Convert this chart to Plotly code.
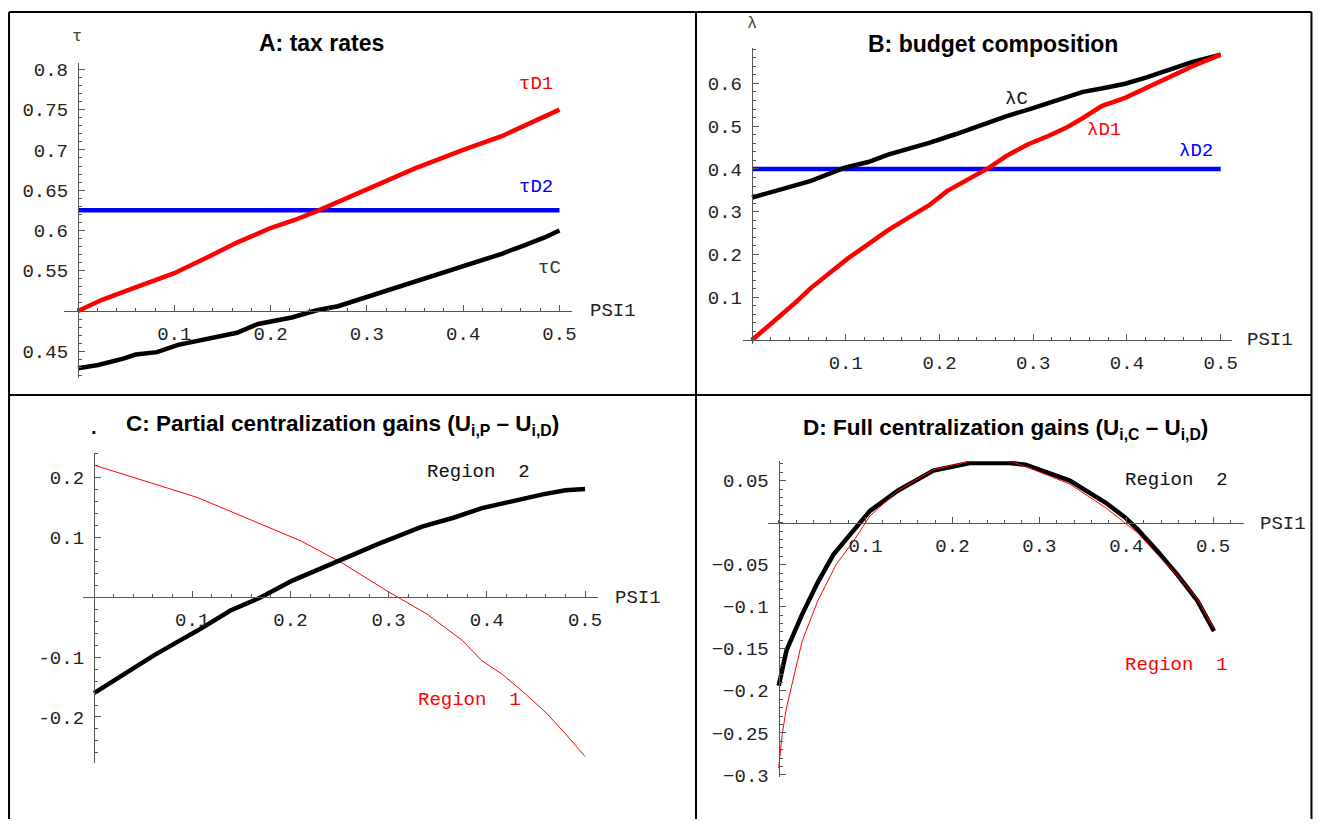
import plotly.graph_objects as go

# page body keeps an 8px margin; the captured page is a little larger than the picture
OFF = 8
VW, VH = 1327, 838            # captured page size (scaled to 1321x824 in the picture)
W, H = VW - 2 * OFF, VH - 2 * OFF
SX, SY = VW / 1321.0, VH / 824.0
SHIFT = 2.0

# ---------------- data ----------------
# Panel A: tax rates
psiA_D1 = [0, 0.025, 0.05, 0.065, 0.1, 0.135, 0.165, 0.2, 0.225, 0.25, 0.275, 0.3, 0.35, 0.4, 0.44, 0.5]
tauD1 = [0.5, 0.514, 0.525, 0.532, 0.547, 0.567, 0.585, 0.603, 0.613, 0.625, 0.638, 0.652, 0.677, 0.70, 0.717, 0.75]
psiA_D2 = [0, 0.5]
tauD2 = [0.625, 0.625]
psiA_C = [0, 0.021, 0.047, 0.06, 0.082, 0.104, 0.165, 0.187, 0.222, 0.248, 0.27, 0.31, 0.353, 0.397, 0.44, 0.462, 0.484, 0.5]
tauC = [0.429, 0.433, 0.441, 0.446, 0.449, 0.458, 0.473, 0.484, 0.492, 0.501, 0.506, 0.521, 0.537, 0.554, 0.571, 0.581, 0.591, 0.6]

# Panel B: budget composition
psiB_C = [0, 0.035, 0.063, 0.099, 0.124, 0.146, 0.167, 0.189, 0.217, 0.244, 0.271, 0.298, 0.325, 0.353, 0.373, 0.398, 0.421, 0.443, 0.47, 0.5]
lamC = [0.333, 0.356, 0.372, 0.403, 0.416, 0.434, 0.446, 0.461, 0.481, 0.502, 0.523, 0.541, 0.561, 0.58, 0.588, 0.599, 0.614, 0.631, 0.65, 0.667]
psiB_D1 = [0, 0.022, 0.044, 0.063, 0.081, 0.103, 0.126, 0.144, 0.167, 0.189, 0.208, 0.23, 0.253, 0.271, 0.294, 0.316, 0.335, 0.353, 0.373, 0.398, 0.421, 0.443, 0.47, 0.5]
lamD1 = [0, 0.04, 0.083, 0.122, 0.153, 0.192, 0.227, 0.255, 0.286, 0.315, 0.348, 0.375, 0.403, 0.43, 0.457, 0.477, 0.496, 0.519, 0.547, 0.566, 0.59, 0.613, 0.64, 0.667]
psiB_D2 = [0, 0.5]
lamD2 = [0.4, 0.4]

# Panel C: partial centralization gains
psiC_R1 = [0, 0.105, 0.211, 0.252, 0.298, 0.316, 0.339, 0.357, 0.375, 0.395, 0.416, 0.439, 0.461, 0.48, 0.5]
uC_R1 = [0.221, 0.167, 0.094, 0.058, 0.011, -0.006, -0.028, -0.05, -0.072, -0.106, -0.129, -0.161, -0.194, -0.228, -0.266]
psiC_R2 = [0, 0.03, 0.061, 0.093, 0.105, 0.139, 0.17, 0.202, 0.243, 0.289, 0.334, 0.366, 0.395, 0.425, 0.457, 0.48, 0.5]
uC_R2 = [-0.16, -0.129, -0.097, -0.067, -0.056, -0.022, 0.0, 0.028, 0.057, 0.089, 0.118, 0.133, 0.149, 0.161, 0.172, 0.179, 0.181]

# Panel D: full centralization gains
psiD_R2 = [0, 0.004, 0.009, 0.027, 0.045, 0.063, 0.082, 0.105, 0.137, 0.178, 0.22, 0.266, 0.284, 0.335, 0.376, 0.399, 0.413, 0.436, 0.459, 0.482, 0.501]
uD_R2 = [-0.194, -0.173, -0.152, -0.109, -0.071, -0.038, -0.014, 0.014, 0.038, 0.062, 0.071, 0.071, 0.069, 0.05, 0.024, 0.006, -0.008, -0.034, -0.062, -0.093, -0.129]
psiD_R1 = [0, 0.004, 0.009, 0.027, 0.045, 0.066, 0.086, 0.105, 0.137, 0.178, 0.22, 0.266, 0.284, 0.335, 0.376, 0.399, 0.413, 0.436, 0.459, 0.482, 0.5]
uD_R1 = [-0.292, -0.252, -0.22, -0.141, -0.093, -0.05, -0.022, 0.008, 0.038, 0.063, 0.073, 0.073, 0.067, 0.046, 0.018, 0.0, -0.012, -0.038, -0.063, -0.091, -0.125]

# tick values / labels
xticks = [0.1, 0.2, 0.3, 0.4, 0.5]
xticktext = ["0.1", "0.2", "0.3", "0.4", "0.5"]
yticksA = [0.45, 0.55, 0.6, 0.65, 0.7, 0.75, 0.8]
yticktextA = ["0.45", "0.55", "0.6", "0.65", "0.7", "0.75", "0.8"]
yticksB = [0.1, 0.2, 0.3, 0.4, 0.5, 0.6]
yticktextB = ["0.1", "0.2", "0.3", "0.4", "0.5", "0.6"]
yticksC = [-0.2, -0.1, 0.1, 0.2]
yticktextC = ["-0.2", "-0.1", "0.1", "0.2"]
yticksD = [-0.3, -0.25, -0.2, -0.15, -0.1, -0.05, 0.05]
yticktextD = ["\u22120.3", "\u22120.25", "\u22120.2", "\u22120.15", "\u22120.1", "\u22120.05", "0.05"]

# ---------------- layout helpers ----------------
def px(x):
    return ((x - SHIFT) * SX - OFF) / W

def py(y):
    return 1 - ((y - SHIFT) * SY - OFF) / H

MONO = "Liberation Mono, Courier New, monospace"
SANS = "Liberation Sans, Arial, sans-serif"
AXC = "#555555"

# panels: x domain px, y domain px (top, bottom), x range, y range, crossing values
panels = {
    "A": dict(xd=(66, 574), yd=(62, 377), xr=(-0.0145, 0.513), yr=(0.4169, 0.8077), xcross=0.5),
    "B": dict(xd=(745, 1234), yd=(46.7, 343.3), xr=(-0.0096, 0.512), yr=(-0.01, 0.683), xcross=0.0),
    "C": dict(xd=(84.8, 600.4), yd=(451.7, 761.7), xr=(-0.0114, 0.5136), yr=(-0.2762, 0.2417), xcross=0.0),
    "D": dict(xd=(769.9, 1246.3), yd=(460, 775.7), xr=(-0.0124, 0.5358), yr=(-0.302, 0.0734), xcross=0.0),
}
yt = {"A": (yticksA, yticktextA, 0.01), "B": (yticksB, yticktextB, 0.02),
      "C": (yticksC, yticktextC, 0.02), "D": (yticksD, yticktextD, 0.01)}

fig = go.Figure()
layout = dict(width=W, height=H, margin=dict(l=0, r=0, t=0, b=0),
              paper_bgcolor="white", plot_bgcolor="white", showlegend=False)

for i, (k, p) in enumerate(panels.items()):
    s = "" if i == 0 else str(i + 1)
    xd = (px(p["xd"][0]), px(p["xd"][1]))
    yd = (py(p["yd"][1]), py(p["yd"][0]))
    yfrac = (p["xcross"] - p["yr"][0]) / (p["yr"][1] - p["yr"][0])
    xpos_paper = yd[0] + yfrac * (yd[1] - yd[0])
    xfrac = (0 - p["xr"][0]) / (p["xr"][1] - p["xr"][0])
    ypos_paper = xd[0] + xfrac * (xd[1] - xd[0])
    layout["xaxis" + s] = dict(
        domain=xd, range=list(p["xr"]), anchor="free", position=xpos_paper,
        showline=True, linecolor=AXC, linewidth=1.3, showgrid=False, zeroline=False,
        tickmode="array", tickvals=xticks, ticktext=xticktext,
        ticks="inside", ticklen=6, tickcolor=AXC, tickwidth=1,
        minor=dict(ticks="inside", ticklen=3, tickcolor=AXC, dtick=0.02, tick0=0, showgrid=False),
        tickfont=dict(family=MONO, size=19, color="#222222"), ticklabelstandoff=5,
        fixedrange=True,
    )
    vals, txt, mdt = yt[k]
    layout["yaxis" + s] = dict(
        domain=yd, range=list(p["yr"]), anchor="free", position=ypos_paper,
        showline=True, linecolor=AXC, linewidth=1.3, showgrid=False, zeroline=False,
        tickmode="array", tickvals=vals, ticktext=txt,
        ticks="inside", ticklen=6, tickcolor=AXC, tickwidth=1,
        minor=dict(ticks="inside", ticklen=3, tickcolor=AXC, dtick=mdt, tick0=0, showgrid=False),
        tickfont=dict(family=MONO, size=19, color="#222222"), ticklabelstandoff=6,
        fixedrange=True,
    )

def line(x, y, color, width, ax):
    fig.add_trace(go.Scatter(x=x, y=y, mode="lines", line=dict(color=color, width=width),
                             xaxis="x" + ax, yaxis="y" + ax, hoverinfo="skip"))

line(psiA_D2, tauD2, "#0000ff", 4.5, "")
line(psiA_D1, tauD1, "#ff0000", 4.5, "")
line(psiA_C, tauC, "#000000", 4.5, "")

line(psiB_D2, lamD2, "#0000ff", 4.5, "2")
line(psiB_C, lamC, "#000000", 4.5, "2")
line(psiB_D1, lamD1, "#ff0000", 4.5, "2")

line(psiC_R1, uC_R1, "#ff0000", 1, "3")
line(psiC_R2, uC_R2, "#000000", 4.5, "3")

line(psiD_R2, uD_R2, "#000000", 4.5, "4")
line(psiD_R1, uD_R1, "#ff0000", 1, "4")

ann = []
def dlabel(text, x, y, color, ax):
    ann.append(dict(text=text, x=x, y=y, xref="x" + ax, yref="y" + ax, showarrow=False,
                    font=dict(family=MONO, size=19, color=color), xanchor="center", yanchor="middle"))

dlabel("\u03c4D1", 0.476, 0.782, "#ff0000", "")
dlabel("\u03c4D2", 0.476, 0.654, "#0000ff", "")
dlabel("\u03c4C", 0.49, 0.554, "#333333", "")
dlabel("\u03bbC", 0.282, 0.564, "#111111", "2")
dlabel("\u03bbD1", 0.375, 0.492, "#ff0000", "2")
dlabel("\u03bbD2", 0.474, 0.441, "#0000ff", "2")
dlabel("Region  2", 0.391, 0.21, "#111111", "3")
dlabel("Region  1", 0.382, -0.172, "#ff0000", "3")
dlabel("Region  2", 0.458, 0.051, "#111111", "4")
dlabel("Region  1", 0.458, -0.169, "#ff0000", "4")

def plabel(text, x, y, size=18, family=MONO, color="#222222", bold=False):
    ann.append(dict(text=("<b>%s</b>" % text) if bold else text, x=px(x), y=py(y),
                    xref="paper", yref="paper", showarrow=False,
                    font=dict(family=family, size=size, color=color),
                    xanchor="center", yanchor="middle"))

plabel("\u03c4", 79, 35, 17, color="#444444")
plabel("PSI1", 615, 310, 19)
plabel("\u03bb", 754, 22, 17, color="#444444")
plabel("PSI1", 1272, 339, 19)
plabel("PSI1", 640, 597, 19)
plabel("PSI1", 1285, 523, 19)

plabel("A: tax rates", 323, 42, 23, SANS, "#000000", True)
plabel("B: budget composition", 995, 43, 23, SANS, "#000000", True)
plabel("C: Partial centralization gains (U<sub>i,P</sub> \u2013 U<sub>i,D</sub>)", 344, 424, 22.5, SANS, "#000000", True)
plabel(".", 96, 426, 20, SANS, "#000000", True)
plabel("D: Full centralization gains (U<sub>i,C</sub> \u2013 U<sub>i,D</sub>)", 1008, 428, 22.5, SANS, "#000000", True)

layout["annotations"] = ann

# panel frame
shapes = []
def seg(x0, y0, x1, y1):
    shapes.append(dict(type="line", xref="paper", yref="paper", x0=min(max(px(x0), 0.0008), 0.9992),
                       y0=min(max(py(y0), 0.0), 0.9988), x1=min(max(px(x1), 0.0008), 0.9992),
                       y1=min(max(py(y1), 0.0), 0.9988), line=dict(color="black", width=2)))
seg(8, 5, 1313.5, 5)
seg(8, 5, 8, 830)
seg(1313.5, 5, 1313.5, 830)
seg(8, 394, 1313.5, 394)
seg(698, 5, 698, 830)
layout["shapes"] = shapes

fig.update_layout(**layout)
fig.write_html("out.html")
